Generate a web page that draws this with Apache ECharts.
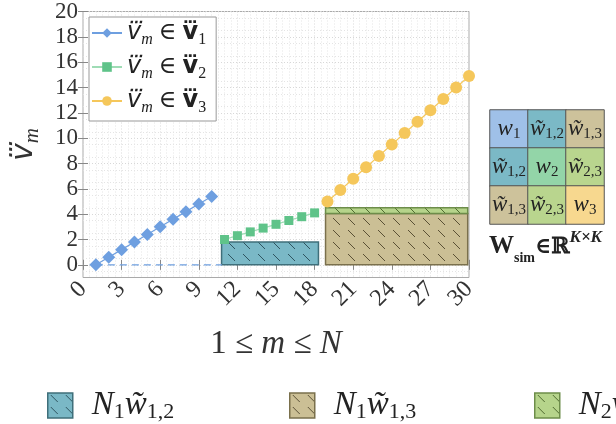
<!DOCTYPE html>
<html><head><meta charset="utf-8">
<script src="https://cdn.jsdelivr.net/npm/echarts@6/dist/echarts.min.js"></script>
<style>html,body{margin:0;padding:0;background:#fff}#c{width:616px;height:424px}</style>
</head><body><div id="c"></div>
<script>
// ---------- data ----------
const m1 = [1,2,3,4,5,6,7,8,9,10];
const v1 = [0,0.6,1.2,1.8,2.4,3.0,3.6,4.2,4.8,5.4];
const m2 = [11,12,13,14,15,16,17,18];
const v2 = [2.0,2.3,2.6,2.9,3.2,3.5,3.8,4.1];
const m3 = [19,20,21,22,23,24,25,26,27,28,29,30];
const v3 = [5.0,5.9,6.8,7.7,8.6,9.5,10.4,11.3,12.2,13.1,14.0,14.9];
const baseX = [1,10.8];
const baseY = [0,0];
// rectangles: [x0, x1, y0, y1]
const rectW12 = [10.77,18.3,0,1.8];
const rectW13 = [18.85,29.9,0,4.05];
const rectW23 = [18.85,29.9,4.05,4.5];
const xTicks = [0,3,6,9,12,15,18,21,24,27,30];
const yTicks = [0,2,4,6,8,10,12,14,16,18,20];
// similarity matrix labels (row, col)
const matLabels = [
  ['w1','w~12','w~13'],
  ['w~12','w2','w~23'],
  ['w~13','w~23','w3']
];
const matKeys = [
  ['a','b','c'],
  ['b','d','e'],
  ['c','e','f']
];
// ---------- styles ----------
const SERIF = "'Liberation Serif','DejaVu Serif',serif";
const DOTF = "'DejaVu Sans'";
const cBlue = '#6e9fe0', cGreen = '#5fc389', cYellow = '#f5c75b';
const matColors = {a:'#9fc0e8', b:'#7bb9c6', c:'#cdc29b', d:'#93d5a8', e:'#b9d58e', f:'#f7d88f'};
function hatch(bg, st){
  const c=document.createElement('canvas'); c.width=15; c.height=12;
  const g=c.getContext('2d'); g.fillStyle=bg; g.fillRect(0,0,15,12);
  g.strokeStyle=st; g.lineWidth=1; g.beginPath(); g.moveTo(3,2); g.lineTo(10,9); g.stroke();
  return {image:c, repeat:'repeat'};
}
const patW12 = hatch('#7ab8c6','#2f5560');
const patW13 = hatch('#cbbf95','#5a5035');
const patW23 = hatch('#b6d48b','#4f6a30');
const brW12 = '#3f6f7a', brW13 = '#7a704c', brW23 = '#6d8d4a';

function rectSeries(name, rect, pat, border){
  return {
    type:'custom', name, xAxisIndex:0, yAxisIndex:0, z:1,
    data:[rect], encode:{x:[0,1], y:[2,3]},
    itemStyle:{color:pat, borderColor:border, borderWidth:1.5},
    renderItem(params, api){
      const p0 = api.coord([api.value(0), api.value(3)]);
      const p1 = api.coord([api.value(1), api.value(2)]);
      return {type:'rect', shape:{x:p0[0], y:p0[1], width:p1[0]-p0[0], height:p1[1]-p0[1]},
        style:{fill:pat, stroke:border, lineWidth:1.5}};
    }
  };
}
function pairs(xs, ys){ return xs.map((x,i)=>[x, ys[i]]); }

const TD = '\u20DB';
const legRich = {
  it:{fontFamily:DOTF, fontStyle:'italic', fontSize:24, color:'#222', lineHeight:30},
  bd:{fontFamily:DOTF, fontWeight:'bold', fontSize:24, color:'#222', lineHeight:30},
  rm:{fontFamily:SERIF, fontSize:24, color:'#222', lineHeight:30},
  sub:{fontFamily:SERIF, fontStyle:'italic', fontSize:16, color:'#222', verticalAlign:'bottom', lineHeight:24},
  sb:{fontFamily:SERIF, fontSize:16, color:'#222', verticalAlign:'bottom', lineHeight:24}
};
const legNames = ['v1','v2','v3'];
const legText = {
  v1:'{it|v'+TD+'}{sub|m}{rm| \u2208 }{bd|v'+TD+'}{sb|1}',
  v2:'{it|v'+TD+'}{sub|m}{rm| \u2208 }{bd|v'+TD+'}{sb|2}',
  v3:'{it|v'+TD+'}{sub|m}{rm| \u2208 }{bd|v'+TD+'}{sb|3}'
};
const botRich = {
  it:{fontFamily:SERIF, fontStyle:'italic', fontSize:33, color:'#222', lineHeight:36},
  sub:{fontFamily:SERIF, fontSize:22, color:'#222', verticalAlign:'bottom', lineHeight:30}
};
const botText = {
  w12:'{it|N}{sub|1}{it|w\u0303}{sub|1,2}',
  w13:'{it|N}{sub|1}{it|w\u0303}{sub|1,3}',
  w23:'{it|N}{sub|2}{it|w\u0303}{sub|2,3}'
};
const matRich = {
  it:{fontFamily:SERIF, fontStyle:'italic', fontSize:23, color:'#222', lineHeight:26},
  sub:{fontFamily:SERIF, fontSize:15, color:'#222', verticalAlign:'bottom', lineHeight:22}
};
function matFmt(s){
  if (s[1]==='~') return '{it|w\u0303}{sub|'+s[2]+','+s[3]+'}';
  return '{it|w}{sub|'+s[1]+'}';
}
const matData = [];
for (let r=0;r<3;r++) for (let c=0;c<3;c++)
  matData.push({value:[c,r,1], name:matLabels[r][c], itemStyle:{color:matColors[matKeys[r][c]]}});

const chart = echarts.init(document.getElementById('c'), null, {renderer:'canvas'});
const gridLine = {show:true, lineStyle:{color:'#d8d8d8', type:[1,2], width:1}};
chart.setOption({
  animation:false,
  backgroundColor:'#fff',
  grid:[
    {left:83, top:11, width:386, height:266.5, show:true, borderColor:'#aaa', borderWidth:1, backgroundColor:'transparent'},
    {left:490, top:110, width:114, height:114}
  ],
  xAxis:[
    {type:'value', gridIndex:0, min:0, max:30, interval:3,
     axisLine:{show:false}, axisTick:{inside:true, length:5, lineStyle:{color:'#888'}},
     minorTick:{show:false, splitNumber:6},
     splitLine:gridLine, minorSplitLine:{show:true, lineStyle:{color:'#e4e4e4', type:[1,2]}},
     axisLabel:{rotate:45, fontFamily:SERIF, fontSize:24, color:'#333', margin:8, hideOverlap:false},
     name:'{n|1 \u2264 }{it|m}{n| \u2264 }{it|N}', nameLocation:'middle', nameGap:50,
     nameTextStyle:{rich:{n:{fontFamily:SERIF, fontSize:33, color:'#333'}, it:{fontFamily:SERIF, fontStyle:'italic', fontSize:33, color:'#333'}}}},
    {type:'value', gridIndex:0, position:'top', min:0, max:30, interval:3,
     axisLine:{show:false}, axisTick:{inside:true, length:5, lineStyle:{color:'#888'}},
     axisLabel:{show:false}, splitLine:{show:false}},
    {type:'category', gridIndex:1, data:[0,1,2], show:false}
  ],
  yAxis:[
    {type:'value', gridIndex:0, min:-1, max:20, interval:1,
     axisLine:{show:false}, axisTick:{inside:true, length:5, customValues:yTicks, lineStyle:{color:'#888'}},
     splitLine:gridLine, minorSplitLine:{show:true, lineStyle:{color:'#e4e4e4', type:[1,2]}}, minorTick:{show:false, splitNumber:2},
     axisLabel:{customValues:yTicks, fontFamily:SERIF, fontSize:23, lineHeight:20, color:'#333', margin:5,
       hideOverlap:false, showMinLabel:true, showMaxLabel:true},
     name:'{it|v'+TD+'}{sub|m}', nameLocation:'middle', nameGap:40, nameRotate:90,
     nameTextStyle:{rich:{it:{fontFamily:DOTF, fontStyle:'italic', fontSize:30, color:'#333', lineHeight:38},
       sub:{fontFamily:SERIF, fontStyle:'italic', fontSize:21, color:'#333', verticalAlign:'bottom', lineHeight:30}}}},
    {type:'value', gridIndex:0, position:'right', min:-1, max:20, interval:1,
     axisLine:{show:false}, axisTick:{inside:true, length:5, customValues:yTicks, lineStyle:{color:'#888'}},
     axisLabel:{show:false}, splitLine:{show:false}},
    {type:'category', gridIndex:1, data:[0,1,2], inverse:true, show:false}
  ],
  legend:[
    {data:legNames, orient:'vertical', left:89, top:17, itemWidth:30, itemHeight:12, itemGap:7,
     padding:[4,10,5,2], borderColor:'#999', borderWidth:1, backgroundColor:'#fff',
     formatter:n=>legText[n], textStyle:{rich:legRich}},
    {data:[{name:'w12', icon:'rect', itemStyle:{color:patW12, borderColor:brW12, borderWidth:1.5}}],
     left:42, top:384, itemWidth:25, itemHeight:25, itemGap:0, formatter:n=>botText[n], textStyle:{rich:botRich, padding:[0,0,0,14]}},
    {data:[{name:'w13', icon:'rect', itemStyle:{color:patW13, borderColor:brW13, borderWidth:1.5}}],
     left:284, top:384, itemWidth:25, itemHeight:25, itemGap:0, formatter:n=>botText[n], textStyle:{rich:botRich, padding:[0,0,0,14]}},
    {data:[{name:'w23', icon:'rect', itemStyle:{color:patW23, borderColor:brW23, borderWidth:1.5}}],
     left:529, top:384, itemWidth:25, itemHeight:25, itemGap:0, formatter:n=>botText[n], textStyle:{rich:botRich, padding:[0,0,0,14]}}
  ],
  title:{text:'{W|W}{sub|sim}{rm|\u2208}{R|\u211D}{sup|K\u00D7K}', left:489, top:229, padding:0,
    textStyle:{rich:{
      W:{fontFamily:SERIF, fontWeight:'bold', fontSize:25, color:'#222', lineHeight:30},
      sub:{fontFamily:SERIF, fontSize:14, color:'#222', verticalAlign:'bottom', lineHeight:24},
      rm:{fontFamily:SERIF, fontSize:22, color:'#222', lineHeight:30},
      R:{fontFamily:"'DejaVu Serif',serif", fontSize:22, color:'#222', lineHeight:30},
      sup:{fontFamily:SERIF, fontStyle:'italic', fontSize:17, color:'#222', verticalAlign:'top', lineHeight:36}
    }}},
  series:[
    rectSeries('w12', rectW12, patW12, brW12),
    rectSeries('w13', rectW13, patW13, brW13),
    rectSeries('w23', rectW23, patW23, brW23),
    {type:'line', name:'base', data:pairs(baseX, baseY), symbol:'none', z:2,
     lineStyle:{color:cBlue, width:1.2, type:[7,5]}},
    {type:'line', name:'v1', data:pairs(m1, v1), symbol:'diamond', symbolSize:13, z:3,
     itemStyle:{color:cBlue}, lineStyle:{color:cBlue, width:1.2}},
    {type:'line', name:'v2', data:pairs(m2, v2), symbol:'rect', symbolSize:9, z:3,
     itemStyle:{color:cGreen}, lineStyle:{color:'#9fdcb5', width:1.2}},
    {type:'line', name:'v3', data:pairs(m3, v3), symbol:'circle', symbolSize:12, z:3,
     itemStyle:{color:cYellow}, lineStyle:{color:cYellow, width:1.2}},
    {type:'heatmap', xAxisIndex:2, yAxisIndex:2, data:matData,
     itemStyle:{borderColor:'#555', borderWidth:1},
     label:{show:true, formatter:p=>matFmt(p.name), rich:matRich}}
  ]
});
</script></body></html>
